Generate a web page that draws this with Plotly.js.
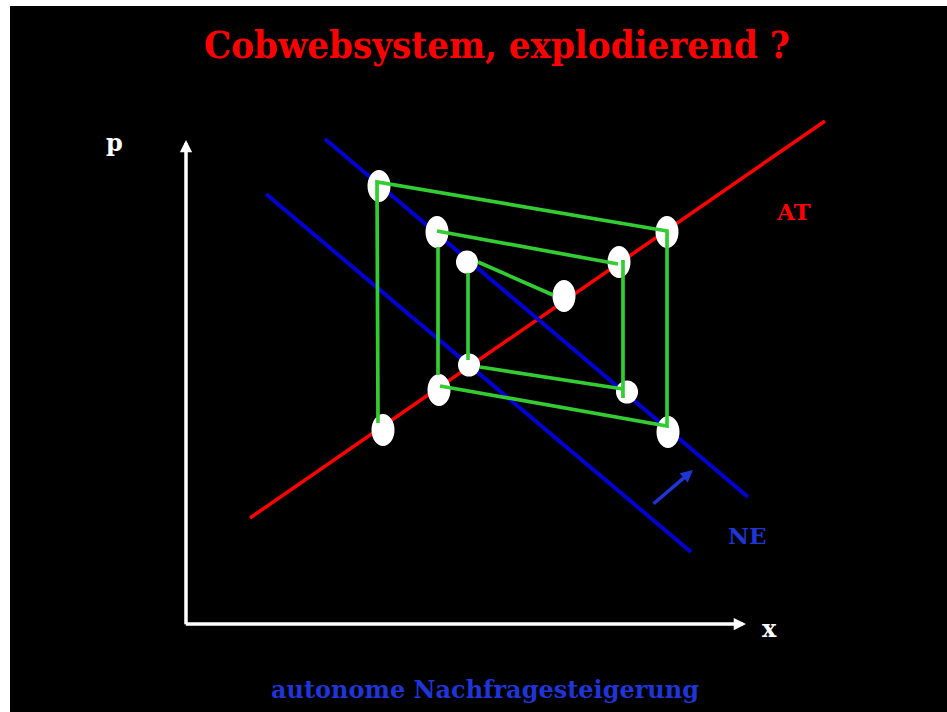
<!DOCTYPE html>
<html>
<head>
<meta charset="utf-8">
<script src="https://cdn.plot.ly/plotly-3.0.1.min.js"></script>
<style>html,body{margin:0;padding:0;background:#fff;}#chart{width:947px;height:712px;}</style>
</head>
<body>
<div id="chart"></div>
<script>
// Coordinates: origin at the corner of the x/p axes, p upward
const axisX = [0, 560];       // x axis from origin to tip
const axisP = [0, 484];       // p axis from origin to tip

// Supply curve AT
const atX = [64, 639];
const atP = [106, 503];
// Demand curve NE (before and after the autonomous increase)
const neOldX = [80, 505];
const neOldP = [430, 72];
const neNewX = [139, 562];
const neNewP = [485, 127];
// Shift arrow
const shiftX = [466, 507];
const shiftP = [119, 154];

// Cobweb points (ellipses)
const ptX = [193, 251, 281, 378, 481, 433, 283, 253, 441, 197, 482];
const ptP = [438, 392, 362, 328, 392, 362, 259, 234, 232, 194, 192];
const ptSmall = [false, false, true, false, false, false, true, false, true, false, false];

// Cobweb path (green), null separates visible pieces
const webX = [367, 292, null, 282, 282, null, 294, 437, null, 437, 437, null, 432, 251, null, 252, 252, null, 254, 481, 481, 191, 192];
const webP = [329, 362, null, 351, 264, null, 257, 235, null, 226, 364, null, 360, 393, null, 377, 249, null, 238, 198, 393, 442, 201];

const FONT = "DejaVu Serif";
const RED = "#ff0000", BLUE = "#0000d2", TBLUE = "#1f35d6", GREEN = "#33cc33";

const shapes = [];
function lineShape(xs, ys, color, w) {
  shapes.push({type: "line", xref: "x", yref: "y", x0: xs[0], y0: ys[0], x1: xs[1], y1: ys[1],
    line: {color: color, width: w}, layer: "below"});
}
lineShape(atX, atP, RED, 3.5);
lineShape(neOldX, neOldP, BLUE, 4);
lineShape(neNewX, neNewP, BLUE, 4);
for (let i = 0; i < ptX.length; i++) {
  const rx = ptSmall[i] ? 11 : 11.5, ry = ptSmall[i] ? 11.5 : 16;
  shapes.push({type: "circle", xref: "x", yref: "y", x0: ptX[i] - rx, x1: ptX[i] + rx,
    y0: ptP[i] - ry, y1: ptP[i] + ry, fillcolor: "#ffffff", line: {width: 0}, layer: "below"});
}

const traces = [{
  x: webX, y: webP, type: "scatter", mode: "lines", connectgaps: false,
  line: {color: GREEN, width: 3.7}, hoverinfo: "skip", showlegend: false
}];

function txt(x, y, text, size, color, fam) {
  return {x: x, y: y, xref: "x", yref: "y", text: text, showarrow: false,
    xanchor: "center", yanchor: "middle", font: {family: fam || FONT, size: size, color: color, weight: "bold"}};
}
function arrow(x0, y0, x1, y1, color, w, s) {
  return {x: x1, y: y1, ax: x0, ay: y0, xref: "x", yref: "y", axref: "x", ayref: "y",
    text: "", showarrow: true, arrowhead: 2, arrowsize: s, arrowwidth: w, arrowcolor: color, standoff: 0};
}

const annotations = [
  txt(311, 580, "<b>Cobwebsystem, explodierend ?</b>", 38, RED, "DejaVu Serif Condensed"),
  txt(-72, 482, "<b>p</b>", 24, "#ffffff"),
  txt(583, -4, "<b>x</b>", 24, "#ffffff"),
  txt(607, 413, "<b>AT</b>", 23, RED),
  txt(561, 89, "<b>NE</b>", 23, TBLUE),
  txt(299, -65, "<b>autonome Nachfragesteigerung</b>", 24, TBLUE),
  arrow(0, -1.7, 0, axisP[1], "#ffffff", 3.5, 0.7),
  arrow(-1.7, 0, axisX[1], 0, "#ffffff", 3.5, 0.7),
  arrow(shiftX[0], shiftP[0], shiftX[1], shiftP[1], TBLUE, 3.5, 0.7)
];

const layout = {
  width: 947, height: 712,
  margin: {l: 10, r: 0, t: 6, b: 0, pad: 0},
  paper_bgcolor: "#ffffff", plot_bgcolor: "#000000",
  xaxis: {range: [-176, 761], visible: false, fixedrange: true},
  yaxis: {range: [-88, 618], visible: false, fixedrange: true},
  shapes: shapes, annotations: annotations, showlegend: false
};
Plotly.newPlot("chart", traces, layout, {displayModeBar: false, staticPlot: true});
</script>
</body>
</html>
